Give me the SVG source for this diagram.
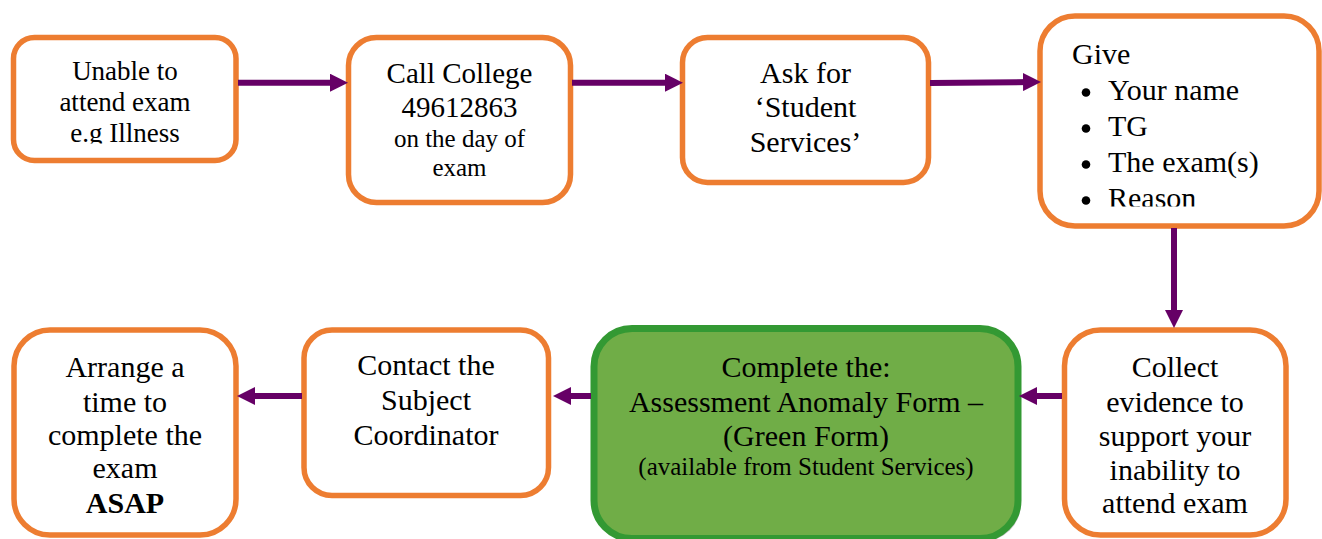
<svg xmlns="http://www.w3.org/2000/svg" width="1322" height="539" viewBox="0 0 1322 539">
<style>
.box{fill:#ffffff;stroke:#ED7D31;stroke-width:5.5}
.green{fill:#70AD47;stroke:#339933;stroke-width:7}
.t{font-family:"Liberation Serif","Times New Roman",serif;fill:#000;text-anchor:middle}
.l{font-family:"Liberation Serif","Times New Roman",serif;fill:#000}
.conn{stroke:#660066;stroke-width:6;fill:none;marker-end:url(#ah)}
</style>
<defs>
<marker id="ah" markerUnits="userSpaceOnUse" markerWidth="18" markerHeight="18" refX="8" refY="9" orient="auto">
<path d="M0,0 L18,9 L0,18 Z" fill="#660066"/>
</marker>
<clipPath id="c1"><rect x="0" y="0" width="300" height="143.5"/></clipPath>
<clipPath id="c4"><rect x="1000" y="0" width="322" height="206.5"/></clipPath>
</defs>
<rect width="1322" height="539" fill="#ffffff"/>

<g id="n1">
<rect class="box" x="13.5" y="37.5" width="222.5" height="123" rx="21"/>
<g clip-path="url(#c1)" class="t" font-size="27">
<text x="125" y="80">Unable to</text>
<text x="125" y="110.5">attend exam</text>
<text x="125" y="141.5">e.g Illness</text>
</g>
</g>

<g id="n2">
<rect class="box" x="348.5" y="37.5" width="222" height="165" rx="28"/>
<text class="t" x="459.5" y="83" font-size="29">Call College</text>
<text class="t" x="459.5" y="117" font-size="29">49612863</text>
<text class="t" x="459.5" y="147" font-size="25">on the day of</text>
<text class="t" x="459.5" y="176" font-size="25">exam</text>
</g>

<g id="n3">
<rect class="box" x="682.5" y="37.5" width="246" height="145" rx="25"/>
<text class="t" x="805.5" y="83" font-size="30">Ask for</text>
<text class="t" x="805.5" y="117" font-size="30">‘Student</text>
<text class="t" x="805.5" y="152" font-size="30">Services’</text>
</g>

<g id="n4">
<rect class="box" x="1040" y="16" width="279" height="210" rx="35"/>
<g clip-path="url(#c4)" class="l" font-size="30">
<text x="1072" y="63.5">Give</text>
<circle cx="1086" cy="92.5" r="4.3" fill="#000"/>
<text x="1108" y="100">Your name</text>
<circle cx="1086" cy="128.5" r="4.3" fill="#000"/>
<text x="1108" y="136">TG</text>
<circle cx="1086" cy="164.5" r="4.3" fill="#000"/>
<text x="1108" y="172">The exam(s)</text>
<circle cx="1086" cy="200.5" r="4.3" fill="#000"/>
<text x="1108" y="208">Reason</text>
</g>
</g>

<g id="n5">
<rect class="box" x="1064.5" y="330" width="221.5" height="205" rx="36"/>
<g class="t" font-size="30">
<text x="1175" y="377">Collect</text>
<text x="1175" y="412">evidence to</text>
<text x="1175" y="446">support your</text>
<text x="1175" y="480">inability to</text>
<text x="1175" y="513">attend exam</text>
</g>
</g>

<g id="n6">
<rect x="597" y="331.5" width="424" height="210" rx="38" fill="#9a9a9a" opacity="0.6"/>
<rect class="green" x="594" y="328.5" width="424" height="210" rx="38"/>
<g class="t">
<text x="806" y="377" font-size="30">Complete the:</text>
<text x="806" y="412" font-size="30">Assessment Anomaly Form –</text>
<text x="806" y="446" font-size="30">(Green Form)</text>
<text x="806" y="475" font-size="25">(available from Student Services)</text>
</g>
</g>

<g id="n7">
<rect class="box" x="304" y="330" width="244.5" height="165.5" rx="28"/>
<g class="t" font-size="30">
<text x="426" y="375">Contact the</text>
<text x="426" y="410">Subject</text>
<text x="426" y="445">Coordinator</text>
</g>
</g>

<g id="n8">
<rect class="box" x="14" y="330" width="222" height="205" rx="36"/>
<g class="t" font-size="30">
<text x="125" y="377">Arrange a</text>
<text x="125" y="412">time to</text>
<text x="125" y="445">complete the</text>
<text x="125" y="478">exam</text>
<text x="125" y="513" font-weight="bold">ASAP</text>
</g>
</g>

<g id="connectors">
<line class="conn" x1="238" y1="82.7" x2="338" y2="82.7"/>
<line class="conn" x1="572" y1="82.7" x2="673" y2="82.7"/>
<line class="conn" x1="930" y1="83" x2="1031" y2="82"/>
<line class="conn" x1="1174" y1="228" x2="1174" y2="318"/>
<line class="conn" x1="1062" y1="396" x2="1029" y2="396"/>
<line class="conn" x1="591" y1="396" x2="563" y2="396"/>
<line class="conn" x1="302" y1="396" x2="247" y2="396"/>
</g>
</svg>
